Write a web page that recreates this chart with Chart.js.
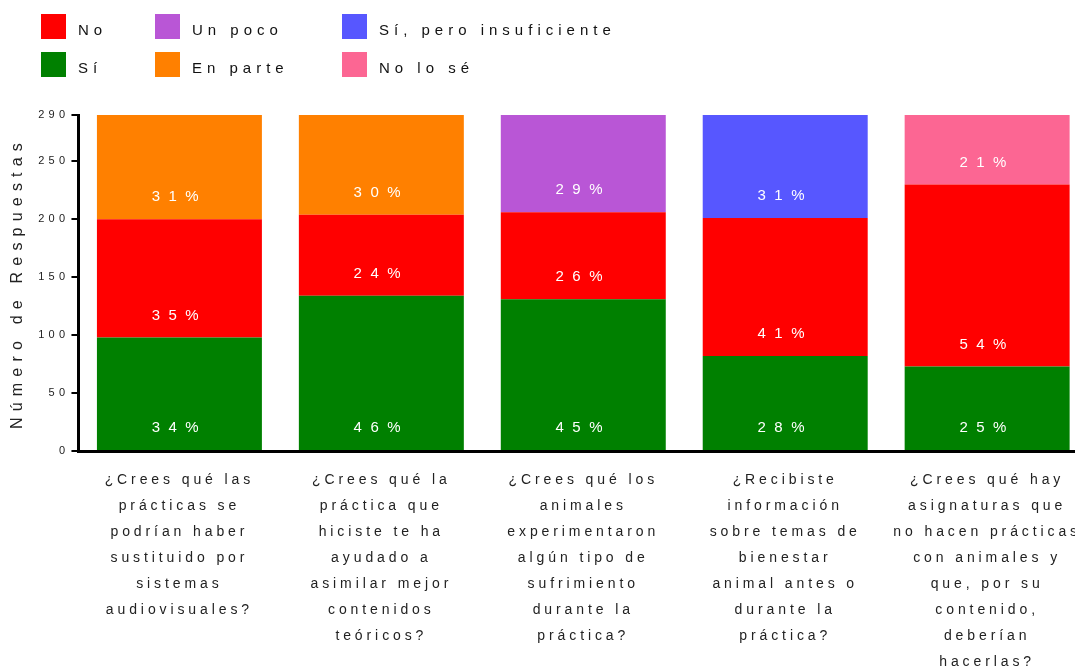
<!DOCTYPE html>
<html lang="es">
<head>
<meta charset="utf-8">
<title>Número de Respuestas</title>
<script src="https://cdn.jsdelivr.net/npm/chart.js@4.4.1/dist/chart.umd.min.js"></script>
<style>
  html, body { margin: 0; padding: 0; background: #ffffff; overflow: hidden; }
  #wrap { width: 1097px; height: 691px; }
</style>
</head>
<body>
<div id="wrap"><canvas id="chart" width="1097" height="691"></canvas></div>
<script>
// Preguntas de la encuesta (una categoría por barra)
const categories = [
  ["¿Crees qué las", "prácticas se", "podrían haber", "sustituido por", "sistemas", "audiovisuales?"],
  ["¿Crees qué la", "práctica que", "hiciste te ha", "ayudado a", "asimilar mejor", "contenidos", "teóricos?"],
  ["¿Crees qué los", "animales", "experimentaron", "algún tipo de", "sufrimiento", "durante la", "práctica?"],
  ["¿Recibiste", "información", "sobre temas de", "bienestar", "animal antes o", "durante la", "práctica?"],
  ["¿Crees qué hay", "asignaturas que", "no hacen prácticas", "con animales y", "que, por su", "contenido,", "deberían", "hacerlas?"]
];

// Número de respuestas por opción
const si             = [98, 134, 131, 82, 73];
const no             = [102, 70, 75, 119, 157];
const enParte        = [90, 86, null, null, null];
const unPoco         = [null, null, 84, null, null];
const siInsuficiente = [null, null, null, 89, null];
const noLoSe         = [null, null, null, null, 60];

// Marcas del eje Y
const yTicks = [0, 50, 100, 150, 200, 250, 290];
const yMax = 290;

// Orden de la leyenda (filas de tres)
const legendOrder = ["No", "Un poco", "Sí, pero insuficiente", "Sí", "En parte", "No lo sé"];

const FONT = "'Liberation Sans', Arial, Helvetica, sans-serif";

// Espaciado entre letras según el tamaño de fuente de cada texto del gráfico
const SPACING = { 11: 4.3, 14: 3.9, 16: 6.2 };
const protoFill = CanvasRenderingContext2D.prototype.fillText;
const protoMeasure = CanvasRenderingContext2D.prototype.measureText;

const letterSpacingPlugin = {
  id: 'letterSpacing',
  beforeInit(chart) {
    const ctx = chart.ctx;
    const pick = () => {
      const m = /(\d+(?:\.\d+)?)px/.exec(ctx.font);
      const s = m ? SPACING[+m[1]] : 0;
      ctx.letterSpacing = (s || 0) + 'px';
    };
    ctx.fillText = function (...a) { pick(); return protoFill.apply(this, a); };
    ctx.measureText = function (...a) { pick(); return protoMeasure.apply(this, a); };
  }
};

function spacedText(ctx, text, x, y, spacing) {
  ctx.letterSpacing = spacing + 'px';
  protoFill.call(ctx, text, x, y);
  ctx.letterSpacing = '0px';
}

// Porcentaje escrito en la base de cada segmento
const segmentLabels = {
  id: 'segmentLabels',
  afterDatasetsDraw(chart) {
    const ctx = chart.ctx;
    const n = chart.data.labels.length;
    const totals = Array.from({ length: n }, (_, i) =>
      chart.data.datasets.reduce((s, d) => s + (d.data[i] || 0), 0));
    ctx.save();
    ctx.font = '15px ' + FONT;
    ctx.fillStyle = '#ffffff';
    ctx.textAlign = 'center';
    ctx.textBaseline = 'middle';
    chart.data.datasets.forEach((ds, di) => {
      const meta = chart.getDatasetMeta(di);
      meta.data.forEach((bar, i) => {
        const v = ds.data[i];
        if (v == null) return;
        const pct = Math.round(v / totals[i] * 100) + '%';
        spacedText(ctx, pct, bar.x, bar.base - 22, 8.5);
      });
    });
    ctx.restore();
  }
};

// Leyenda en tres columnas y dos filas
const gridLegend = {
  id: 'gridLegend',
  afterDraw(chart) {
    const ctx = chart.ctx;
    const colX = [41, 155, 342];
    const rowY = [14, 52];
    const box = 25;
    ctx.save();
    ctx.font = '15px ' + FONT;
    ctx.textAlign = 'left';
    ctx.textBaseline = 'middle';
    legendOrder.forEach((name, k) => {
      const ds = chart.data.datasets.find(d => d.label === name);
      const x = colX[k % 3];
      const y = rowY[Math.floor(k / 3)];
      ctx.fillStyle = ds.backgroundColor;
      ctx.fillRect(x, y, box, box);
      ctx.fillStyle = '#111111';
      spacedText(ctx, name, x + 37, y + box / 2 + 4, 5);
    });
    ctx.restore();
  }
};

const mk = (label, data, color) => ({
  label, data, backgroundColor: color, borderWidth: 0,
  barPercentage: 0.817, categoryPercentage: 1.0
});

new Chart(document.getElementById('chart'), {
  type: 'bar',
  data: {
    labels: categories,
    datasets: [
      mk('Sí', si, '#008000'),
      mk('No', no, '#ff0000'),
      mk('En parte', enParte, '#ff8000'),
      mk('Un poco', unPoco, '#b956d6'),
      mk('Sí, pero insuficiente', siInsuficiente, '#5757ff'),
      mk('No lo sé', noLoSe, '#fc6693')
    ]
  },
  options: {
    responsive: false,
    animation: false,
    layout: { padding: { top: 115, left: 0, right: 0, bottom: 0 } },
    plugins: {
      legend: { display: false },
      tooltip: { enabled: false }
    },
    scales: {
      x: {
        stacked: true,
        grid: { display: false, drawTicks: false },
        border: { display: true, color: '#000000', width: 3 },
        ticks: {
          autoSkip: false, maxRotation: 0, minRotation: 0, padding: 16,
          color: '#222222',
          font: { family: FONT, size: 14, lineHeight: 26 / 14 }
        }
      },
      y: {
        stacked: true,
        min: 0,
        max: yMax,
        afterBuildTicks(scale) { scale.ticks = yTicks.map(v => ({ value: v })); },
        grid: { display: true, drawOnChartArea: false, drawTicks: true, tickLength: 7, color: '#000000', lineWidth: 2 },
        border: { display: true, color: '#000000', width: 3 },
        ticks: {
          padding: 2, color: '#222222',
          font: { family: FONT, size: 11 }
        },
        title: {
          display: true,
          text: 'Número de Respuestas',
          color: '#222222',
          font: { family: FONT, size: 16 },
          padding: { top: 8, bottom: 9 }
        }
      }
    }
  },
  plugins: [letterSpacingPlugin, segmentLabels, gridLegend]
});
</script>
</body>
</html>
